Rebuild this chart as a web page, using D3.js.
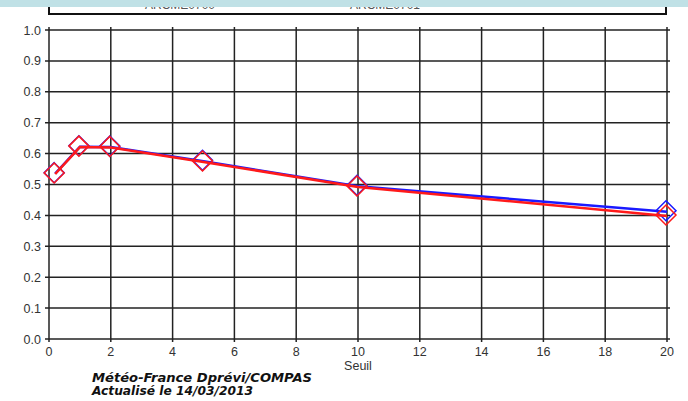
<!DOCTYPE html>
<html><head><meta charset="utf-8">
<script src="https://cdn.jsdelivr.net/npm/d3@7"></script>
<style>body{margin:0;background:#fff}svg{display:block}</style>
</head><body>
<svg id="c" width="688" height="401"></svg>
<script>
const seuils = [0.2, 1, 2, 5, 10, 20];
const serieBleue = [0.535, 0.622, 0.621, 0.575, 0.494, 0.412];
const serieRouge = [0.534, 0.621, 0.620, 0.573, 0.492, 0.398];
const xTicks = [0,2,4,6,8,10,12,14,16,18,20];
const yTicks = [0,0.1,0.2,0.3,0.4,0.5,0.6,0.7,0.8,0.9,1.0];
const legendLabels = ["ARCME0700", "ARCME0701"];

const svg = d3.select("#c");
const x = d3.scaleLinear().domain([0,20]).range([49,667]);
const y = d3.scaleLinear().domain([0,1]).range([339,30]);

// top band + cut legend box
svg.append("defs").append("clipPath").attr("id","lc").append("rect").attr("x",0).attr("y",7).attr("width",688).attr("height",8);
const lg = svg.append("g").attr("clip-path","url(#lc)");
[145, 350].forEach((px,i)=>{
  lg.append("text").attr("x",px).attr("y",9).attr("font-family","Liberation Sans, Arial").attr("font-size",12).attr("fill","#555").text(legendLabels[i]);
});
svg.append("rect").attr("x",0).attr("y",0).attr("width",688).attr("height",7).attr("fill","#c0e1e6");
svg.append("path").attr("d","M49,7V14H666V7").attr("fill","none").attr("stroke","#111").attr("stroke-width",2);

// grid
const g = svg.append("g");
g.selectAll(".hg").data(yTicks).join("line")
  .attr("x1",x(0)-4).attr("x2",x(20)+3).attr("y1",d=>y(d)).attr("y2",d=>y(d))
  .attr("stroke","#222").attr("stroke-width",1.5);
g.selectAll(".vg").data(xTicks).join("line")
  .attr("y1",y(1)-3).attr("y2",y(0)+3).attr("x1",d=>x(d)).attr("x2",d=>x(d))
  .attr("stroke","#222").attr("stroke-width",1.5);

// axis labels
g.selectAll(".yl").data(yTicks).join("text")
  .attr("x",41).attr("y",d=>y(d)+4.5).attr("text-anchor","end")
  .attr("font-family","Liberation Sans, Arial").attr("font-size",12.5).attr("fill","#333")
  .text(d=>d3.format(".1f")(d));
g.selectAll(".xl").data(xTicks).join("text")
  .attr("x",d=>x(d)).attr("y",356).attr("text-anchor","middle")
  .attr("font-family","Liberation Sans, Arial").attr("font-size",12.5).attr("fill","#333")
  .text(d=>d);
svg.append("text").attr("x",358).attr("y",370).attr("text-anchor","middle")
  .attr("font-family","Liberation Sans, Arial").attr("font-size",12.5).attr("fill","#333").text("Seuil");

// series
const line = d3.line().x(d=>x(d[0])).y(d=>y(d[1]));
function drawSeries(vals, color){
  const pts = seuils.map((s,i)=>[s, vals[i]]);
  svg.append("path").datum(pts).attr("d",line).attr("fill","none").attr("stroke",color).attr("stroke-width",2.5);
  svg.selectAll(null).data(pts).join("path")
    .attr("d",d=>{const cx=x(d[0])-1, cy=y(d[1])-1, r=10; return `M${cx},${cy-r}L${cx+r},${cy}L${cx},${cy+r}L${cx-r},${cy}Z`;})
    .attr("fill","none").attr("stroke",color).attr("stroke-width",1.5);
}
drawSeries(serieBleue, "#1a1aff");
drawSeries(serieRouge, "#ff1a1a");

// footer
const ft = svg.append("g").attr("font-family","DejaVu Sans Condensed, DejaVu Sans").attr("font-style","italic").attr("font-weight","bold").attr("font-size",12).attr("fill","#111");
ft.append("text").attr("x",92).attr("y",382).attr("textLength",220).attr("lengthAdjust","spacingAndGlyphs").text("Météo-France Dprévi/COMPAS");
ft.append("text").attr("x",92).attr("y",395).attr("textLength",161).attr("lengthAdjust","spacingAndGlyphs").text("Actualisé le 14/03/2013");
</script>
</body></html>
